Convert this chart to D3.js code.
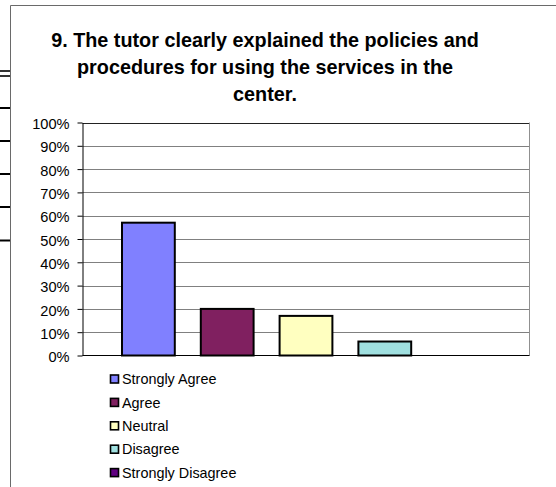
<!DOCTYPE html>
<html>
<head>
<meta charset="utf-8">
<script src="https://cdn.jsdelivr.net/npm/d3@7/dist/d3.min.js"></script>
<style>
  html, body { margin: 0; padding: 0; background: #fff; }
  svg { display: block; }
  text { font-family: "Liberation Sans", Arial, sans-serif; }
</style>
</head>
<body>
<script>
// Survey responses for question 9
const categories = ["Strongly Agree", "Agree", "Neutral", "Disagree", "Strongly Disagree"];
const values = [0.57, 0.20, 0.17, 0.06, 0.00];
const yTicks = [0, 0.1, 0.2, 0.3, 0.4, 0.5, 0.6, 0.7, 0.8, 0.9, 1.0];
const titleLines = [
  "9. The tutor clearly explained the policies and",
  "procedures for using the services in the",
  "center."
];

const fillColors = ["#8080ff", "#802060", "#ffffc0", "#a0e0e0", "#600080"];

const W = 556, H = 487;
const plot = { left: 82.5, right: 529.5, top: 122.5, bottom: 355.5 };

const svg = d3.select("body").append("svg")
  .attr("width", W).attr("height", H);

svg.append("rect").attr("width", W).attr("height", H).attr("fill", "#fff");

// Table rules peeking out to the left of the chart
const ruleY = [108, 141, 174, 207, 240.5];
svg.append("g").selectAll("line").data(ruleY).join("line")
  .attr("x1", 0).attr("x2", 10).attr("y1", d => d).attr("y2", d => d)
  .attr("stroke", "#000").attr("stroke-width", 2);
svg.append("g").selectAll("line").data([71, 76]).join("line")
  .attr("x1", 0).attr("x2", 10).attr("y1", d => d).attr("y2", d => d)
  .attr("stroke", "#000").attr("stroke-width", 1.6);

// Chart area border (top and left edges visible)
svg.append("path")
  .attr("d", `M10.5,${H} V5.5 H${W}`)
  .attr("fill", "none").attr("stroke", "#6a6a6a").attr("stroke-width", 1);

// Title
const title = svg.append("text")
  .attr("text-anchor", "middle")
  .attr("font-weight", "bold")
  .attr("font-size", "19.8px")
  .attr("fill", "#000");
title.selectAll("tspan").data(titleLines).join("tspan")
  .attr("x", 265)
  .attr("y", (d, i) => 47 + i * 27.2)
  .text(d => d);

// Scales
const y = d3.scaleLinear().domain([0, 1]).range([plot.bottom, plot.top]);
const x = d3.scaleBand().domain(categories)
  .range([109, 503]).paddingInner(0.33).paddingOuter(0.165);

// Gridlines
svg.append("g").selectAll("line").data(yTicks.filter(t => t > 0)).join("line")
  .attr("x1", plot.left).attr("x2", plot.right)
  .attr("y1", d => Math.round(y(d)) + 0.5).attr("y2", d => Math.round(y(d)) + 0.5)
  .attr("stroke", d => d === 1 ? "#222" : "#808080").attr("stroke-width", 1);

// Right edge of plot area
svg.append("line")
  .attr("x1", plot.right).attr("x2", plot.right)
  .attr("y1", plot.top).attr("y2", plot.bottom)
  .attr("stroke", "#909090");

// Bars
svg.append("g").selectAll("rect")
  .data(categories.map((c, i) => ({ c, v: values[i], i })).filter(d => d.v > 0))
  .join("rect")
  .attr("x", d => x(d.c))
  .attr("y", d => y(d.v))
  .attr("width", x.bandwidth())
  .attr("height", d => y(0) - y(d.v))
  .attr("fill", d => fillColors[d.i])
  .attr("stroke", "#000").attr("stroke-width", 2);

// Y axis
const yAxis = d3.axisLeft(y)
  .tickValues(yTicks)
  .tickFormat(d3.format(".0%"))
  .tickSizeInner(5).tickSizeOuter(0).tickPadding(8);
const gy = svg.append("g")
  .attr("transform", `translate(${plot.left},0)`)
  .call(yAxis);
gy.select(".domain").attr("stroke", "#000");
gy.selectAll(".tick line").attr("stroke", "#000");
gy.selectAll(".tick text")
  .attr("font-size", "14.6px")
  .attr("font-family", "'Liberation Sans', Arial, sans-serif")
  .attr("fill", "#000")
  .attr("dy", "0.42em");

// X axis baseline
svg.append("line")
  .attr("x1", plot.left).attr("x2", plot.right)
  .attr("y1", y(0)).attr("y2", y(0))
  .attr("stroke", "#000").attr("stroke-width", 1.2);

// Legend
const legend = svg.append("g");
const rows = legend.selectAll("g").data(categories).join("g")
  .attr("transform", (d, i) => `translate(110,${379 + i * 23.4})`);
rows.append("rect")
  .attr("x", 0.5).attr("y", -4)
  .attr("width", 8).attr("height", 8)
  .attr("fill", (d, i) => fillColors[i])
  .attr("stroke", "#000").attr("stroke-width", 1.6);
rows.append("text")
  .attr("x", 12).attr("y", 0).attr("dy", "0.36em")
  .attr("font-size", "14.4px")
  .attr("fill", "#000")
  .text(d => d);
</script>
</body>
</html>
